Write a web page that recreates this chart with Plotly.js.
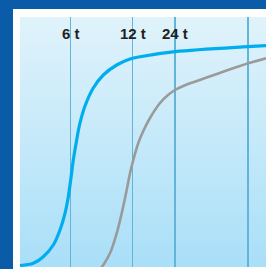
<!DOCTYPE html>
<html><head><meta charset="utf-8">
<script src="https://cdn.plot.ly/plotly-3.0.1.min.js"></script>
<style>
html,body{margin:0;padding:0;background:#fff;}
#wrap{position:relative;width:266px;height:269px;overflow:hidden;background:#fff;}
#bL{position:absolute;left:0;top:0;width:13px;height:269px;background:#0b5ca8;}
#bT{position:absolute;left:0;top:0;width:266px;height:9px;background:#0b5ca8;}
#bg{position:absolute;left:20px;top:17px;width:246px;height:250px;background:linear-gradient(#e0f3fb,#a9dff8);}
#chart{position:absolute;left:0;top:0;width:266px;height:269px;}
</style></head><body>
<div id="wrap"><div id="bL"></div><div id="bT"></div><div id="bg"></div><div id="chart"></div></div>
<script>
// fast (cyan) curve
const fastX = [0, 13.3, 23.3, 33.3, 40, 45, 48.3, 50.7, 53.3, 56.5, 59.5, 65, 73.3, 83.3, 96.7, 110, 120, 155, 228, 246];
const fastY = [1.5, 3.7, 10.3, 22, 37, 53.7, 70.3, 87, 107, 126, 142, 161, 179, 192, 202, 208, 210.3, 215.3, 220.3, 221.3];
// slow (gray) curve
const slowX = [78, 83.3, 90, 96.7, 101.7, 106.7, 110, 113.3, 118.3, 123.3, 130, 140, 148, 155, 165, 176.7, 203, 228.3, 246];
const slowY = [-5, 2, 13.7, 33.7, 53.7, 77, 93.7, 107, 124, 136, 149, 164, 172, 177, 181.8, 186, 195.3, 203.7, 208.7];
// reference times
const timePos = [50.5, 112.7, 155, 228];
const timeLabels = ['6 t', '12 t', '24 t', ''];

const traces = [
  {x: slowX, y: slowY, mode: 'lines', line: {color: '#9a9a9a', width: 2.6, shape: 'spline', smoothing: 1}, hoverinfo: 'skip'},
  {x: fastX, y: fastY, mode: 'lines', line: {color: '#00aeef', width: 3.2, shape: 'spline', smoothing: 1}, hoverinfo: 'skip'}
];

const annotations = timeLabels.filter(t => t).map((t, i) => ({
  x: timePos[i], xref: 'x', y: 0.934, yref: 'paper', text: t, showarrow: false,
  xanchor: 'center', yanchor: 'middle',
  font: {family: 'Liberation Sans, Arial, sans-serif', size: 15, color: '#231f20', weight: 'bold'}
}));

const layout = {
  width: 266, height: 269,
  margin: {l: 20, r: 0, t: 17, b: 2, pad: 0},
  paper_bgcolor: 'rgba(0,0,0,0)', plot_bgcolor: 'rgba(0,0,0,0)',
  showlegend: false,
  xaxis: {range: [0, 246], tickvals: timePos, ticktext: timeLabels, showticklabels: false, ticks: '',
          showgrid: true, gridcolor: '#62b4d9', gridwidth: 1.5, zeroline: false, showline: false, fixedrange: true},
  yaxis: {range: [0, 250], showgrid: false, showticklabels: false, ticks: '', zeroline: false, showline: false, fixedrange: true},
  annotations: annotations
};
Plotly.newPlot('chart', traces, layout, {displayModeBar: false, staticPlot: true});
</script></body></html>
